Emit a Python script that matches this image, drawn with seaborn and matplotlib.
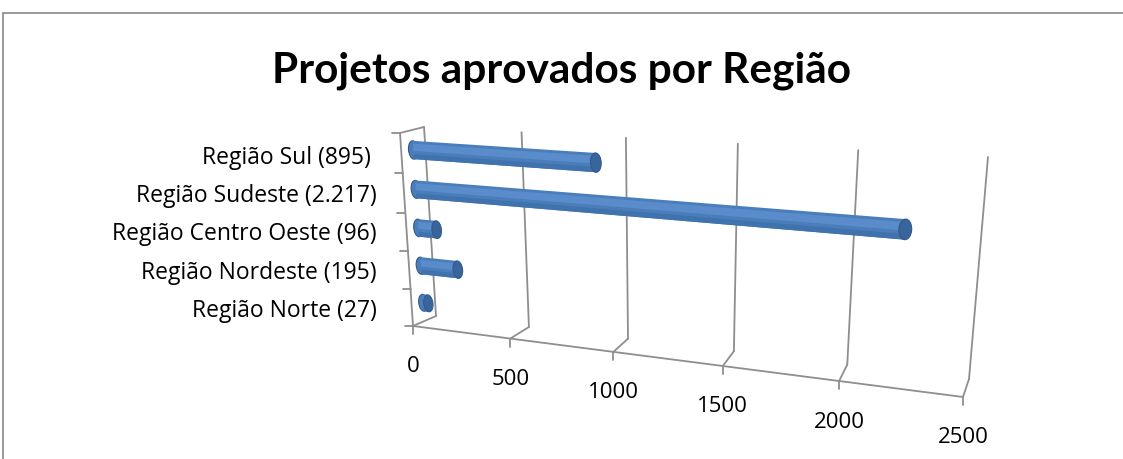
import numpy as np
import pandas as pd
import matplotlib
matplotlib.use("Agg")
import matplotlib.pyplot as plt
import seaborn as sns
from matplotlib.transforms import Transform, Affine2D
from matplotlib.patches import Rectangle, Ellipse

# data
regioes = ["Região Sul (895) ", "Região Sudeste (2.217)", "Região Centro Oeste (96)",
           "Região Nordeste (195)", "Região Norte (27)"]
projetos = [895, 2217, 96, 195, 27]
xticks = [0, 500, 1000, 1500, 2000, 2500]

W, H, DPI = 1123, 460, 100
XMAX = 2500

# corners of the fake 3D box, pixels from the top-left of the image
FRONT = {"TL": (400, 134), "TR": (982, 176), "BL": (413, 327), "BR": (963, 398)}
BACK = {"TL": (424, 128), "TR": (988, 158), "BL": (436, 317), "BR": (969, 380)}
MID = {k: ((FRONT[k][0] + BACK[k][0]) / 2, (FRONT[k][1] + BACK[k][1]) / 2) for k in FRONT}

BAR = "#4A7EBB"
LIGHT = "#5A8CCB"
DARK = "#4072AE"
CAP = "#3A659C"
EDGE = "#33598C"
GRID = "#8E8E8E"


class Homog(Transform):
    """axes fraction (u, v) -> display, through a perspective quad"""
    input_dims = output_dims = 2
    is_separable = False
    has_inverse = False

    def __init__(self, quad):
        super().__init__()
        src = [(0, 0), (1, 0), (0, 1), (1, 1)]
        dst = [quad["BL"], quad["BR"], quad["TL"], quad["TR"]]
        A, b = [], []
        for (x, y), (X, Y) in zip(src, dst):
            Y = H - Y
            A.append([x, y, 1, 0, 0, 0, -x * X, -y * X]); b.append(X)
            A.append([0, 0, 0, x, y, 1, -x * Y, -y * Y]); b.append(Y)
        h = np.linalg.solve(np.array(A, float), np.array(b, float))
        self.m = np.append(h, 1).reshape(3, 3)

    def transform_non_affine(self, values):
        v = np.asarray(values, dtype=float).reshape(-1, 2)
        p = np.column_stack([v, np.ones(len(v))]) @ self.m.T
        return p[:, :2] / p[:, 2:3]


sns.set_style("white")
plt.rcParams['font.family'] = ['Open Sans', 'DejaVu Sans']
plt.rcParams['text.color'] = 'black'

fig = plt.figure(figsize=(W / DPI, H / DPI), dpi=DPI)
ax = fig.add_axes([410 / W, 1 - 327 / H, (963 - 410) / W, (327 - 136) / H])

df = pd.DataFrame({"regiao": regioes, "projetos": projetos})
sns.barplot(data=df, x="projetos", y="regiao", orient="h", color=BAR, width=0.46,
            linewidth=0, saturation=1, ax=ax)

ax.autoscale(False)
ax.set_xlim(0, XMAX)
ax.set_ylim(len(regioes) - 0.5, -0.5)

t_mid = ax.transData + ax.transAxes.inverted() + Homog(MID)
back = Homog(BACK)
front = Homog(FRONT)

# cylinders: body, soft shading strips and the two end caps
bars = list(ax.patches)
for p in bars:
    p.set_transform(t_mid)
    p.set_clip_on(False)
    p.set_zorder(2)
    x0, w, y0, h = p.get_x(), p.get_width(), p.get_y(), p.get_height()
    yc = y0 + h / 2
    extra = [
        Ellipse((x0, yc), 50, h, fc=BAR, ec=EDGE, lw=0.8, zorder=1.5),
        Rectangle((x0, y0 + h * 0.15), w, h * 0.4, fc=LIGHT, ec="none", zorder=2.1),
        Rectangle((x0, y0 + h * 0.72), w, h * 0.28, fc=DARK, ec="none", zorder=2.1),
        Ellipse((x0 + w, yc), 50, h, fc=CAP, ec=EDGE, lw=0.8, zorder=3),
    ]
    for e in extra:
        e.set_transform(t_mid)
        e.set_clip_on(False)
        ax.add_artist(e)

lab = Affine2D().translate(0, -40)
lw = 1.3
for v in xticks:
    u = v / XMAX
    # back wall grid line, floor diagonal, tick below the front edge
    ax.plot([u, u], [0, 1], transform=back, color=GRID, lw=lw, clip_on=False, zorder=0)
    xb, yb = back.transform((u, 0))
    xf, yf = front.transform((u, 0))
    ax.plot([xb, xf], [yb, yf], transform=None, color=GRID, lw=lw, clip_on=False, zorder=0)
    ax.plot([xf, xf], [yf, yf - 8], transform=None, color=GRID, lw=lw, clip_on=False)
    ax.text(u, 0, f"{v}", transform=front + lab, ha="center", va="center", fontsize=16,
            color="black")

# front floor edge and front left axis
ax.plot([0, 1], [0, 0], transform=front, color=GRID, lw=lw, clip_on=False, zorder=0)
ax.plot([0, 0], [0, 1], transform=front, color=GRID, lw=lw, clip_on=False, zorder=0)
xt, yt = front.transform((0, 1))
xk, yk = back.transform((0, 1))
ax.plot([xt, xk], [yt, yk], transform=None, color=GRID, lw=lw, clip_on=False)
for i in range(len(regioes) + 1):
    xa, ya = front.transform((0, i / len(regioes)))
    ax.plot([xa - 8, xa], [ya, ya], transform=None, color=GRID, lw=lw, clip_on=False)

for s in ax.spines.values():
    s.set_visible(False)
ax.set_xticks([])
ax.set_xlabel("")
ax.set_ylabel("")
ax.tick_params(axis="y", length=0, pad=24, labelsize=16.5, labelcolor="black")

fig.text(0.5, 1 - 71 / H, "Projetos aprovados por Região", ha="center", va="center",
         fontsize=30.5, fontweight="bold", color="black", family=["Lato", "DejaVu Sans"])

# chart area border (cut by the image on the right and bottom)
fig.add_artist(Rectangle((3 / W, -0.5), 2, 1.5 - 14 / H, transform=fig.transFigure,
                         fill=False, ec="#868686", lw=1.2))

fig.savefig("out.png", dpi=DPI)
